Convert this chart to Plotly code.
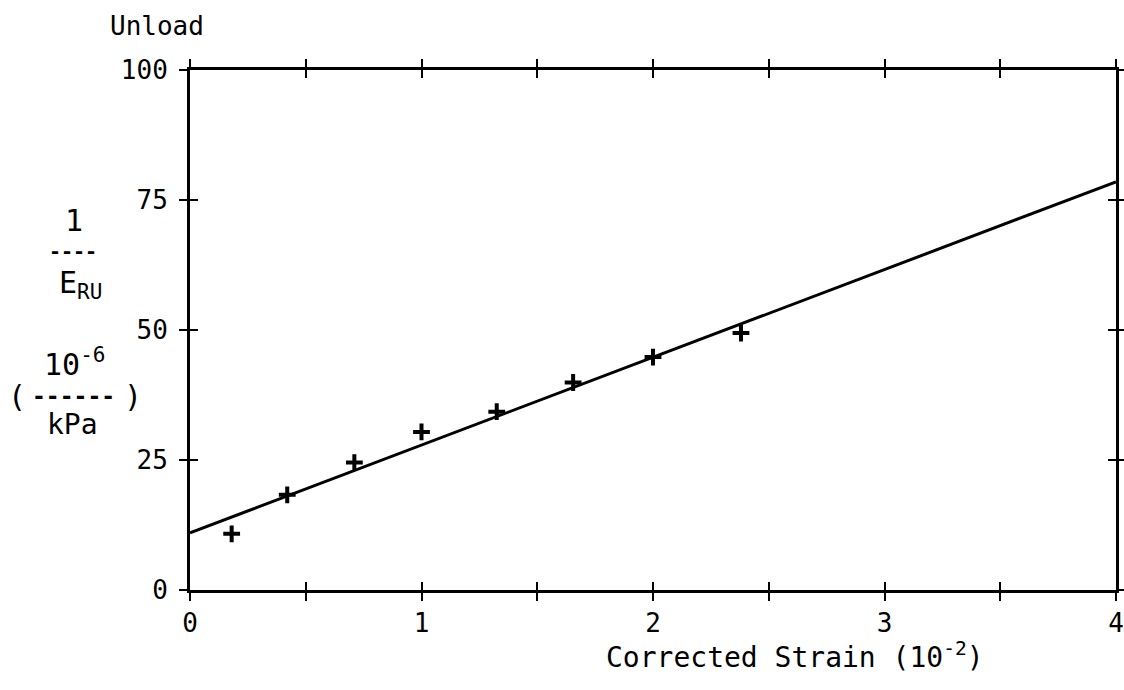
import plotly.graph_objects as go

# Data
strain = [0.18, 0.42, 0.71, 1.00, 1.325, 1.655, 2.00, 2.38]
inv_modulus = [10.8, 18.3, 24.5, 30.4, 34.3, 39.9, 44.8, 49.4]
fit_x = [0.0, 4.0]
fit_y = [11.0, 78.5]

x_tick_vals = [0, 1, 2, 3, 4]
x_tick_text = ["0", "1", "2", "3", "4"]
x_minor_vals = [0.5, 1.5, 2.5, 3.5]
y_tick_vals = [0, 25, 50, 75, 100]
y_tick_text = ["0", "25", "50", "75", "100"]

FONT = "DejaVu Sans Mono"
FS = 26

fig = go.Figure()
fig.add_trace(go.Scatter(x=fit_x, y=fit_y, mode="lines",
                         line=dict(color="black", width=3), showlegend=False))
fig.add_trace(go.Scatter(x=strain, y=inv_modulus, mode="markers",
                         marker=dict(symbol="cross-thin", size=12, color="black",
                                     line=dict(color="black", width=4)),
                         showlegend=False))
# invisible trace on overlay axes (for inside ticks)
fig.add_trace(go.Scatter(x=[0], y=[0], xaxis="x2", yaxis="y2", mode="markers",
                         marker=dict(opacity=0), showlegend=False, hoverinfo="skip"))

axis_common = dict(showgrid=False, zeroline=False, showline=True, linecolor="black",
                   linewidth=3, tickcolor="black", tickwidth=2, ticklen=8)

L, R, T, B = 190, 8, 70, 100
fig.update_layout(
    width=1124, height=690,
    margin=dict(l=L, r=R, t=T, b=B, autoexpand=False),
    paper_bgcolor="white", plot_bgcolor="white",
    font=dict(family=FONT, size=FS, color="black"),
    xaxis=dict(range=[0, 4], tickvals=x_tick_vals, ticktext=x_tick_text,
               ticks="outside", mirror="ticks", ticklabelstandoff=0, automargin=False,
               minor=dict(tickvals=x_minor_vals, ticks="outside", ticklen=8,
                          tickwidth=2, tickcolor="black", showgrid=False),
               **axis_common),
    yaxis=dict(range=[0, 100], tickvals=y_tick_vals, ticktext=y_tick_text,
               ticks="outside", mirror="ticks", ticklabelstandoff=6, automargin=False,
               **axis_common),
    xaxis2=dict(range=[0, 4], overlaying="x", tickvals=x_tick_vals, showticklabels=False,
                ticks="inside", mirror="ticks", automargin=False,
                minor=dict(tickvals=x_minor_vals, ticks="inside", ticklen=8,
                           tickwidth=2, tickcolor="black", showgrid=False),
                **axis_common),
    yaxis2=dict(range=[0, 100], overlaying="y", tickvals=y_tick_vals, showticklabels=False,
                ticks="inside", mirror="ticks", automargin=False, **axis_common),
)

# (text, x_px, y_px, font size)
ann = [
    ("Unload", 157, 26, 26),
    ("Corrected Strain (10<sup>-2</sup>)", 795, 655, 28),
    ("1", 74, 220, 30),
    ("<b>----</b>", 73, 251, 20),
    ("E<sub>RU</sub>", 80, 284, 30),
    ("(", 17, 396, 30),
    ("10<sup>-6</sup>", 74, 362, 30),
    ("<b>------</b>", 73, 396, 23),
    ("kPa", 72, 424, 28),
    (")", 133, 396, 30),
]
pw, ph = 1124 - L - R, 690 - T - B
for text, xp, yp, fs in ann:
    fig.add_annotation(text=text, xref="paper", yref="paper",
                       x=(xp - L) / pw, y=1 - (yp - T) / ph,
                       showarrow=False, xanchor="center", yanchor="middle",
                       font=dict(family=FONT, size=fs, color="black"))

fig.write_html("out.html", config={"displayModeBar": False},
               post_script="document.body.style.margin='0';document.body.style.overflow='hidden';")
